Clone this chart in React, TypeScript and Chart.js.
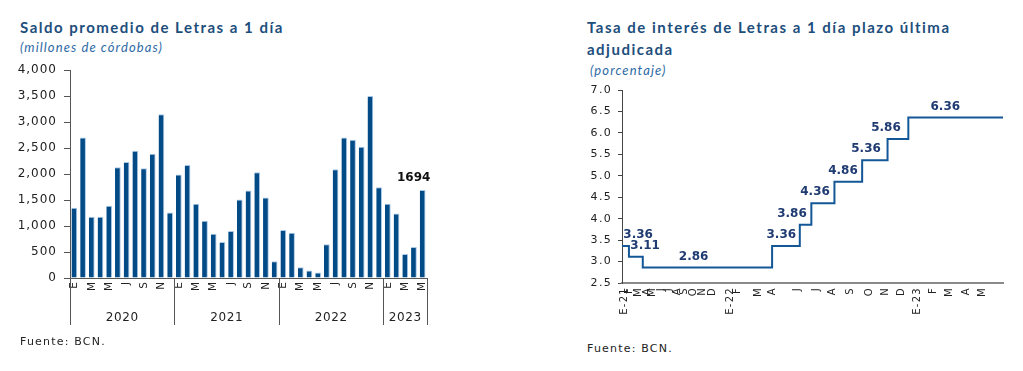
import React, { useEffect, useRef } from "react";
import { Chart, registerables } from "chart.js";

Chart.register(...registerables);

// ---------- Left chart data ----------
const monthLetters = ["E", "F", "M", "A", "M", "J", "J", "A", "S", "O", "N", "D"];
const yearLabels = ["2020", "2021", "2022", "2023"];
const monthsPerYear = [12, 12, 12, 5];
const saldo2020 = [1350, 2700, 1180, 1180, 1390, 2130, 2230, 2445, 2110, 2390, 3150, 1260];
const saldo2021 = [1990, 2175, 1430, 1100, 850, 690, 905, 1510, 1685, 2035, 1550, 320];
const saldo2022 = [925, 870, 205, 145, 105, 650, 2090, 2700, 2660, 2525, 3500, 1745];
const saldo2023 = [1430, 1240, 460, 595, 1694];
const saldoMin = 0;
const saldoMax = 4000;
const saldoStep = 500;
const saldoHighlight = "1694";

// ---------- Right chart data ----------
const rateTickLabels = ["E-21", "F", "M", "A", "M", "J", "J", "A", "S", "O", "N", "D", "E-22", "F", "M", "A", "J", "J", "A", "S", "O", "N", "D", "E-23", "F", "M", "A", "M"];
const rateTickPos = [1, 3, 7, 11, 13, 17, 20, 24, 27, 31, 35, 39, 47, 50, 59, 65, 76, 84, 91, 99, 107, 114, 121, 128, 135, 142, 149, 156];
const rateStepStart = [0, 3, 9, 65, 77, 82, 92, 104, 115, 124];
const rateValues = [3.36, 3.11, 2.86, 3.36, 3.86, 4.36, 4.86, 5.36, 5.86, 6.36];
const rateLabelPos = [7, 10, 31, 69, 73.6, 83.6, 95.7, 105.7, 114.3, 140];
const rateAxisEnd = 165;
const rateMin = 2.5;
const rateMax = 7.0;
const rateStep = 0.5;

const FONT = "'DejaVu Sans', Verdana, sans-serif";
const TITLE_FONT = "Lato, 'Open Sans', sans-serif";
const TITLE_COLOR = "#1d4e7c";
const SUB_COLOR = "#2d6aa5";

if (typeof document !== "undefined") {
  document.body.style.margin = "0";
}

const spacingPlugin = (spacing: string) => ({
  id: "spacing",
  beforeUpdate(chart: any) {
    chart.ctx.letterSpacing = spacing;
  },
  beforeDraw(chart: any) {
    chart.ctx.letterSpacing = spacing;
  },
});

function LeftChart() {
  const ref = useRef<HTMLCanvasElement>(null);
  useEffect(() => {
    const allValues = [...saldo2020, ...saldo2021, ...saldo2022, ...saldo2023];
    const labels: string[] = [];
    monthsPerYear.forEach((n) => {
      for (let i = 0; i < n; i++) labels.push(monthLetters[i]);
    });

    const yearPlugin = {
      id: "years",
      afterDraw(chart: any) {
        const xs = chart.scales.x;
        const area = chart.chartArea;
        const ctx = chart.ctx;
        const half = (xs.getPixelForValue(1) - xs.getPixelForValue(0)) / 2;
        ctx.save();
        ctx.strokeStyle = "#555";
        ctx.lineWidth = 1;
        ctx.fillStyle = "#222";
        ctx.font = `12px ${FONT}`;
        ctx.letterSpacing = "0.6px";
        ctx.textAlign = "center";
        ctx.textBaseline = "middle";
        let start = 0;
        monthsPerYear.forEach((n, gi) => {
          const l = xs.getPixelForValue(start) - half;
          const r = xs.getPixelForValue(start + n - 1) + half;
          const lines = gi === monthsPerYear.length - 1 ? [l, r] : [l];
          lines.forEach((px) => {
            const p = Math.round(px) + 0.5;
            ctx.beginPath();
            ctx.moveTo(p, area.bottom);
            ctx.lineTo(p, area.bottom + 47);
            ctx.stroke();
          });
          ctx.fillText(yearLabels[gi], (l + r) / 2, area.bottom + 40);
          start += n;
        });
        ctx.restore();
      },
    };

    const labelPlugin = {
      id: "lastLabel",
      afterDatasetsDraw(chart: any) {
        const meta = chart.getDatasetMeta(0);
        const el = meta.data[meta.data.length - 1];
        const ctx = chart.ctx;
        ctx.save();
        ctx.letterSpacing = "0px";
        ctx.font = `bold 12px ${FONT}`;
        ctx.fillStyle = "#111";
        ctx.textAlign = "center";
        ctx.textBaseline = "alphabetic";
        ctx.fillText(saldoHighlight, el.x - 9, el.y - 9);
        ctx.restore();
      },
    };

    const chart = new Chart(ref.current!, {
      type: "bar",
      data: {
        labels,
        datasets: [
          {
            data: allValues,
            backgroundColor: "#034b87",
            borderColor: "#a8c7e6",
            borderWidth: { top: 1, right: 1, left: 0, bottom: 0 },
            borderSkipped: false,
            barPercentage: 0.66,
            categoryPercentage: 1,
          },
        ],
      },
      options: {
        animation: false,
        responsive: false,
        events: [],
        layout: { padding: { left: 0, right: 13, top: 70, bottom: 0 } },
        plugins: { legend: { display: false }, tooltip: { enabled: false } },
        scales: {
          x: {
            grid: { display: false, drawTicks: false },
            border: { display: true, color: "#555", width: 1 },
            ticks: {
              autoSkip: false,
              minRotation: 90,
              maxRotation: 90,
              padding: 3,
              color: "#222",
              font: { family: FONT, size: 10.5 },
              callback: (_v: any, i: number) => {
                let idx = i;
                for (const n of monthsPerYear) {
                  if (idx < n) break;
                  idx -= n;
                }
                return idx % 2 === 0 ? monthLetters[idx] : "";
              },
            },
            afterFit: (s: any) => {
              s.height = 62;
            },
          },
          y: {
            min: saldoMin,
            max: saldoMax,
            grid: { display: true, drawOnChartArea: false, drawTicks: true, tickLength: 6, color: "#555" },
            border: { display: true, color: "#555", width: 1 },
            ticks: {
              stepSize: saldoStep,
              padding: 7,
              color: "#222",
              font: { family: FONT, size: 12 },
              callback: (v: any) => Number(v).toLocaleString("en-US"),
            },
            afterFit: (s: any) => {
              s.width = 70;
            },
          },
        },
      },
      plugins: [spacingPlugin("1px"), yearPlugin, labelPlugin],
    });
    return () => chart.destroy();
  }, []);
  return <canvas ref={ref} width={440} height={340} style={{ position: "absolute", left: 0, top: 0 }} />;
}

function RightChart() {
  const ref = useRef<HTMLCanvasElement>(null);
  useEffect(() => {
    const points = rateStepStart.map((s, i) => ({ x: s, y: rateValues[i] }));
    points.push({ x: rateAxisEnd, y: rateValues[rateValues.length - 1] });

    const labelPlugin = {
      id: "rateLabels",
      afterDatasetsDraw(chart: any) {
        const xs = chart.scales.x;
        const ys = chart.scales.y;
        const ctx = chart.ctx;
        ctx.save();
        ctx.letterSpacing = "0px";
        ctx.font = `bold 12px ${FONT}`;
        ctx.fillStyle = "#1f3b72";
        ctx.textAlign = "center";
        ctx.textBaseline = "middle";
        rateValues.forEach((v, i) => {
          ctx.fillText(v.toFixed(2), xs.getPixelForValue(rateLabelPos[i]), ys.getPixelForValue(v) - 11);
        });
        ctx.restore();
      },
    };

    const chart = new Chart(ref.current!, {
      type: "line",
      data: {
        datasets: [
          {
            data: points,
            stepped: true,
            borderColor: "#145796",
            borderWidth: 2,
            pointRadius: 0,
            fill: false,
          },
        ],
      },
      options: {
        animation: false,
        responsive: false,
        events: [],
        layout: { padding: { left: 0, right: 20, top: 90, bottom: 0 } },
        plugins: { legend: { display: false }, tooltip: { enabled: false } },
        scales: {
          x: {
            type: "linear",
            min: 0,
            max: rateAxisEnd,
            grid: { display: false, drawTicks: false },
            border: { display: true, color: "#8a8a8a", width: 2 },
            afterBuildTicks: (s: any) => {
              s.ticks = rateTickPos.map((v) => ({ value: v }));
            },
            ticks: {
              autoSkip: false,
              minRotation: 90,
              maxRotation: 90,
              padding: 4,
              color: "#222",
              font: { family: FONT, size: 10 },
              callback: (_v: any, i: number) => rateTickLabels[i],
            },
            afterFit: (s: any) => {
              s.height = 57;
            },
          },
          y: {
            min: rateMin,
            max: rateMax,
            grid: { display: true, drawOnChartArea: false, drawTicks: true, tickLength: 4, color: "#444" },
            border: { display: true, color: "#444", width: 1 },
            ticks: {
              stepSize: rateStep,
              padding: 6,
              color: "#222",
              font: { family: FONT, size: 11 },
              callback: (v: any) => Number(v).toFixed(1),
            },
            afterFit: (s: any) => {
              s.width = 42;
            },
          },
        },
      },
      plugins: [spacingPlugin("1.3px"), labelPlugin],
    });
    return () => chart.destroy();
  }, []);
  return <canvas ref={ref} width={443} height={340} style={{ position: "absolute", left: 580, top: 0 }} />;
}

const titleStyle: React.CSSProperties = {
  position: "absolute",
  fontFamily: TITLE_FONT,
  fontWeight: 700,
  fontSize: 15,
  letterSpacing: "1.5px",
  color: TITLE_COLOR,
  whiteSpace: "nowrap",
  lineHeight: "normal",
};
const subStyle: React.CSSProperties = {
  position: "absolute",
  fontFamily: TITLE_FONT,
  fontStyle: "italic",
  fontSize: 13,
  letterSpacing: "1.1px",
  color: SUB_COLOR,
  whiteSpace: "nowrap",
  lineHeight: "normal",
};
const sourceStyle: React.CSSProperties = {
  position: "absolute",
  fontFamily: FONT,
  fontSize: 11,
  letterSpacing: "1.2px",
  color: "#222",
  whiteSpace: "nowrap",
  lineHeight: "normal",
};

export default function App() {
  return (
    <div style={{ position: "relative", width: 1023, height: 371, background: "#fff", overflow: "hidden" }}>
      <div style={{ ...titleStyle, left: 20, top: 18 }}>Saldo promedio de Letras a 1 día</div>
      <div style={{ ...subStyle, left: 20, top: 39 }}>(millones de córdobas)</div>
      <LeftChart />
      <div style={{ ...sourceStyle, left: 20, top: 335 }}>Fuente: BCN.</div>

      <div style={{ ...titleStyle, left: 587, top: 18 }}>Tasa de interés de Letras a 1 día plazo última</div>
      <div style={{ ...titleStyle, left: 587, top: 40 }}>adjudicada</div>
      <div style={{ ...subStyle, left: 590, top: 62 }}>(porcentaje)</div>
      <RightChart />
      <div style={{ ...sourceStyle, left: 587, top: 342 }}>Fuente: BCN.</div>
    </div>
  );
}
